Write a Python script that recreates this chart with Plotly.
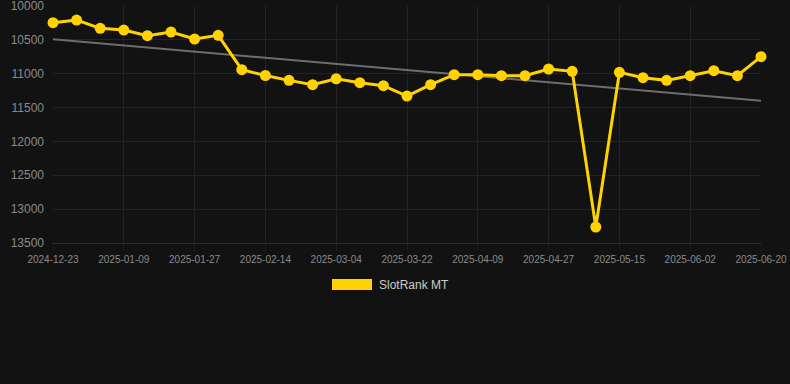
import plotly.graph_objects as go

dates = [
    "2024-12-23", "2024-12-28", "2025-01-03", "2025-01-09", "2025-01-15", "2025-01-21",
    "2025-01-27", "2025-02-02", "2025-02-08", "2025-02-14", "2025-02-20", "2025-02-26",
    "2025-03-04", "2025-03-10", "2025-03-16", "2025-03-22", "2025-03-28", "2025-04-03",
    "2025-04-09", "2025-04-15", "2025-04-21", "2025-04-27", "2025-05-03", "2025-05-09",
    "2025-05-15", "2025-05-21", "2025-05-27", "2025-06-02", "2025-06-08", "2025-06-14",
    "2025-06-20",
]
rank = [
    10246, 10207, 10330, 10355, 10438, 10384, 10487, 10433, 10940, 11026,
    11098, 11162, 11074, 11133, 11177, 11329, 11162, 11014, 11014, 11029,
    11029, 10930, 10965, 13264, 10980, 11059, 11098, 11029, 10955, 11029,
    10748,
]
trend_x = [dates[0], dates[-1]]
trend_y = [10492, 11399]
tick_labels = dates[::3]
y_ticks = [10000, 10500, 11000, 11500, 12000, 12500, 13000, 13500]

BG = "#121212"
GRID = "#232323"
YELLOW = "#FFD200"
FONT = "Liberation Sans, Arial, sans-serif"

fig = go.Figure()
fig.add_trace(go.Scatter(
    x=trend_x, y=trend_y, mode="lines",
    line=dict(color="#6e6e6e", width=2),
    showlegend=False, hoverinfo="skip",
))
fig.add_trace(go.Scatter(
    x=dates, y=rank, mode="lines+markers", name="SlotRank MT",
    line=dict(color=YELLOW, width=3),
    marker=dict(color=YELLOW, size=11),
    cliponaxis=False, showlegend=False,
))

# manual legend
fig.add_shape(type="rect", xref="paper", yref="paper",
              x0=(332 - 53) / 708, x1=(372 - 53) / 708,
              y0=(243 - 290) / 237, y1=(243 - 279) / 237,
              fillcolor=YELLOW, line=dict(width=0))
fig.add_annotation(xref="paper", yref="paper", x=(377 - 53) / 708, y=(243 - 284.5) / 237,
                   text="SlotRank MT", showarrow=False, xanchor="left", yanchor="middle",
                   font=dict(family=FONT, size=12, color="#cccccc"))

fig.update_layout(
    width=790, height=384,
    margin=dict(l=53, r=29, t=6, b=141),
    paper_bgcolor=BG, plot_bgcolor=BG,
    font=dict(family=FONT, color="#8a8a8a"),
    showlegend=False,
    xaxis=dict(
        type="category", categoryorder="array", categoryarray=dates,
        range=[0, 30], tickmode="array", tickvals=tick_labels, ticktext=tick_labels,
        showgrid=True, gridcolor=GRID, gridwidth=1, automargin=False,
        showline=True, linecolor="#2c2c2c", zeroline=False,
        ticks="outside", ticklen=7, tickcolor="#1c1c1c",
        tickfont=dict(size=10, color="#8a8a8a"), ticklabeloverflow="allow",
    ),
    yaxis=dict(
        range=[13500.5, 9999.5], tickmode="array", tickvals=y_ticks, tickformat="d",
        showgrid=True, gridcolor=GRID, gridwidth=1, zeroline=False, automargin=False,
        showline=False, ticklabelstandoff=8, ticklabeloverflow="allow",
        tickfont=dict(size=12, color="#8a8a8a"),
    ),
)

fig.write_html("out.html", config={"displayModeBar": False},
               post_script="document.body.style.margin='0';document.body.style.background='#121212';")
